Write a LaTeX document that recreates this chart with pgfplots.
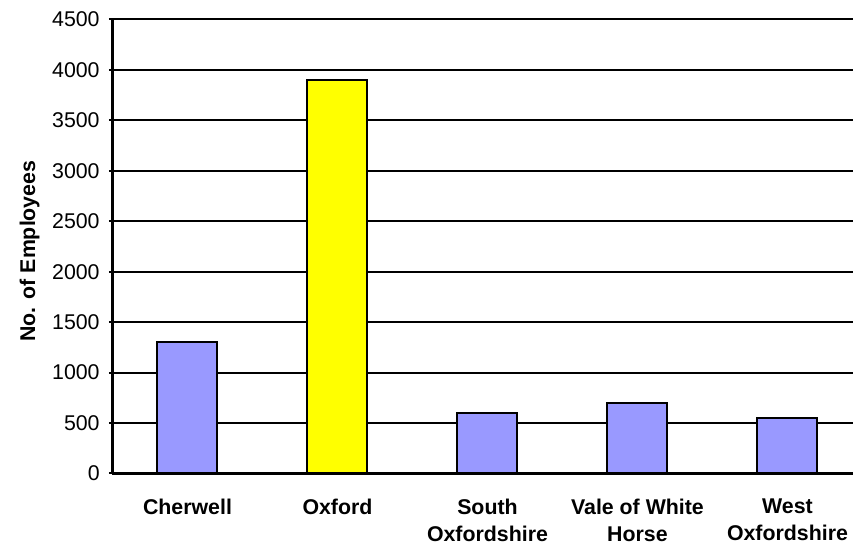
\documentclass[border=0pt]{standalone}
\usepackage{fontspec}
\setmainfont{Liberation Sans}
\usepackage{pgfplots}
\pgfplotsset{compat=1.18}

\definecolor{barblue}{HTML}{9999FF}
\definecolor{baryellow}{HTML}{FFFF00}

% one picture pixel
\newlength{\px}
\setlength{\px}{0.75pt}

\begin{document}
\fontsize{16}{19}\selectfont
\begin{tikzpicture}
\begin{axis}[
  name=ax,
  scale only axis,
  width=740.5\px,
  height=454\px,
  xmin=-0.5, xmax=4.437,
  ymin=0, ymax=4500,
  ytick={0,500,...,4500},
  xtick={0,1,2,3,4},
  xticklabels={Cherwell,Oxford,South\\Oxfordshire,Vale of White\\Horse,West\\Oxfordshire},
  x tick label style={font=\fontsize{16}{20.5}\selectfont\bfseries, align=center, anchor=north, yshift=-11\px},
  y tick label style={font=\fontsize{16}{19}\selectfont, xshift=-2\px},
  /pgf/number format/assume math mode=true,
  scaled y ticks=false,
  yticklabel style={/pgf/number format/1000 sep={}},
  major x tick style={draw=none},
  extra x ticks={-0.5,0.5,1.5,2.5,3.5},
  extra x tick labels={},
  extra x tick style={major tick length=7\px, tick align=outside, tick style={draw=black, line width=2\px}},
  ytick align=outside,
  major tick length=7\px,
  y tick style={draw=black, line width=2\px},
  ymajorgrids,
  major grid style={black, line width=2\px},
  axis x line=bottom,
  axis y line=left,
  axis line style={-, black, line width=2.5\px},
  ylabel={\bfseries No. of Employees},
  ylabel style={font=\fontsize{16}{19}\selectfont, at={(ticklabel cs:0.49)}, yshift=-2\px},
  ybar,
  bar width=0.4,
  bar shift=0pt,
  clip=false,
]
% districts other than the city
\addplot[fill=barblue, draw=black, line width=2\px]
  coordinates {(0,1300) (2,600) (3,700) (4,550)};
% the city itself
\addplot[fill=baryellow, draw=black, line width=2\px]
  coordinates {(1,3900)};
\end{axis}
\pgfresetboundingbox
\path ([xshift=-112.5\px, yshift=-71.5\px]ax.south west) rectangle ++(853\px,545\px);
\end{tikzpicture}
\end{document}
